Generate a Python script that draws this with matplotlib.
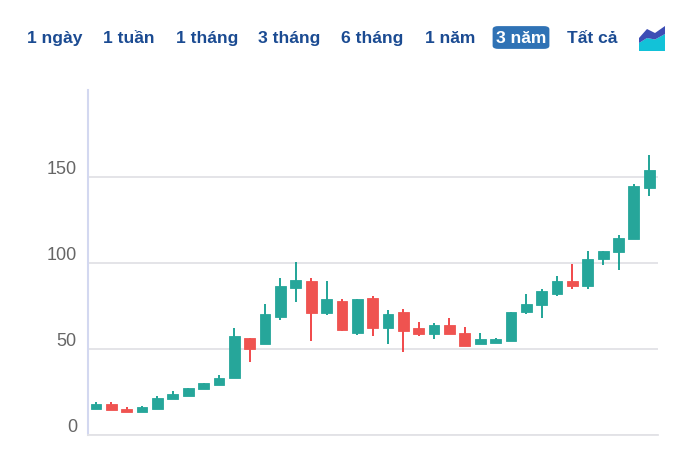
import matplotlib
matplotlib.use("Agg")
import matplotlib.pyplot as plt
from matplotlib.patches import FancyBboxPatch, Polygon
from matplotlib.transforms import ScaledTranslation

opens = [15.3, 18.0, 15.1, 13.4, 15.3, 20.9, 22.7, 26.6, 29.3, 33.1, 56.4, 52.9, 68.8,
         85.7, 89.3, 70.7, 77.9, 59.5, 79.8, 62.2, 71.5, 62.0, 58.5, 64.0, 59.3, 52.9,
         53.7, 54.8, 71.5, 75.4, 82.0, 89.3, 86.6, 102.5, 106.4, 113.8, 143.8]
closes = [18.0, 14.3, 13.4, 16.3, 21.7, 23.6, 27.3, 30.2, 33.1, 57.6, 50.0, 70.5, 86.6,
          90.1, 70.7, 78.9, 61.2, 78.9, 62.2, 70.5, 60.5, 58.5, 64.0, 58.5, 51.9, 55.6,
          55.6, 71.5, 76.2, 83.7, 89.3, 86.6, 102.3, 107.2, 114.5, 144.8, 154.0]
highs = [19.2, 19.2, 16.3, 17.1, 22.7, 25.6, 27.3, 30.2, 34.9, 62.2, 56.4, 76.2, 91.3,
         100.6, 91.3, 89.3, 78.9, 78.9, 80.8, 72.5, 73.3, 65.9, 64.9, 67.8, 63.0, 59.3,
         56.4, 71.5, 82.0, 84.7, 92.2, 99.6, 107.2, 107.2, 116.5, 145.7, 162.6]
lows = [15.3, 14.3, 13.4, 13.4, 15.3, 20.9, 22.7, 26.6, 29.3, 33.1, 42.6, 52.9, 67.0,
        77.1, 54.8, 70.0, 60.3, 58.3, 57.6, 52.9, 48.3, 57.6, 55.6, 58.5, 51.9, 52.9,
        53.7, 54.8, 70.5, 67.8, 81.0, 84.7, 84.7, 98.8, 96.1, 113.8, 139.0]
y_ticks = [0, 50, 100, 150]
range_labels = ["1 ngày", "1 tuần", "1 tháng", "3 tháng", "6 tháng", "1 năm", "3 năm", "Tất cả"]
range_centers = [54.5, 129, 207, 289.5, 372.5, 450, 521, 592.5]
active_range = "3 năm"

W, H = 690, 461
UP, DOWN = "#26a69a", "#ef5350"
UP_WICK, DOWN_WICK = "#0f9d8f", "#f0393c"

plt.rcParams["font.family"] = ["Liberation Sans", "DejaVu Sans"]
fig = plt.figure(figsize=(W / 100, H / 100), dpi=100)
ax = fig.add_axes([88 / W, 1 - 435 / H, 570 / W, 345 / H])
ax.set_xlim(-0.52, 36.57)
ax.set_ylim(0, 200.6)
ax.set_xticks([])
ax.set_yticks(y_ticks)
ax.set_yticklabels([str(v) for v in y_ticks], fontsize=13, color="#666666")
ax.tick_params(axis="y", length=0, pad=8)
# Axis numbers sit just above their gridlines
raise_labels = ScaledTranslation(0, 3 / 100, fig.dpi_scale_trans)
for lab in ax.get_yticklabels():
    lab.set_verticalalignment("baseline")
    lab.set_transform(lab.get_transform() + raise_labels)
ax.grid(axis="y", color="#e2e2e6", linewidth=1.3, zorder=0)
ax.set_axisbelow(True)
for name in ("top", "right"):
    ax.spines[name].set_visible(False)
ax.spines["left"].set_color("#d3d8f0")
ax.spines["left"].set_linewidth(1.5)
ax.spines["bottom"].set_color("#e2e2e6")
ax.spines["bottom"].set_linewidth(1.3)

xs = list(range(len(opens)))
colors = [UP if c >= o else DOWN for o, c in zip(opens, closes)]
wicks = [UP_WICK if c >= o else DOWN_WICK for o, c in zip(opens, closes)]
ax.vlines(xs, lows, highs, colors=wicks, linewidth=1.3, zorder=2)
ax.bar(xs, [abs(c - o) for o, c in zip(opens, closes)],
       bottom=[min(o, c) for o, c in zip(opens, closes)],
       width=0.7, color=colors, edgecolor=colors, linewidth=0.6, zorder=3)

# Range selector row, placed in pixel-based figure fractions
for label, cx in zip(range_labels, range_centers):
    selected = label == active_range
    if selected:
        fig.add_artist(FancyBboxPatch((494 / W, 1 - 47.5 / H), 54 / W, 20 / H,
                                      boxstyle="round,pad=0,rounding_size=0.006",
                                      transform=fig.transFigure, facecolor="#2f72b5",
                                      edgecolor="#2f72b5", linewidth=2, mutation_aspect=H / W))
    fig.text(cx / W, 1 - 38.5 / H, label, ha="center", va="center", fontsize=12.6,
             fontweight="bold", color="white" if selected else "#1b4b92", zorder=5)

# Chart-type icon
cyan = [(639, 51), (639, 43), (647, 38), (655, 39.5), (665, 34), (665, 51)]
indigo = [(639, 43), (639, 38), (647, 29), (655, 33), (665, 26), (665, 34), (655, 39.5), (647, 38)]
to_fig = lambda pts: [(x / W, 1 - y / H) for x, y in pts]
fig.add_artist(Polygon(to_fig(cyan), closed=True, transform=fig.transFigure, facecolor="#12c2d8", edgecolor="none"))
fig.add_artist(Polygon(to_fig(indigo), closed=True, transform=fig.transFigure, facecolor="#3d4db5", edgecolor="none"))

fig.savefig("out.png", dpi=100, facecolor="white")
